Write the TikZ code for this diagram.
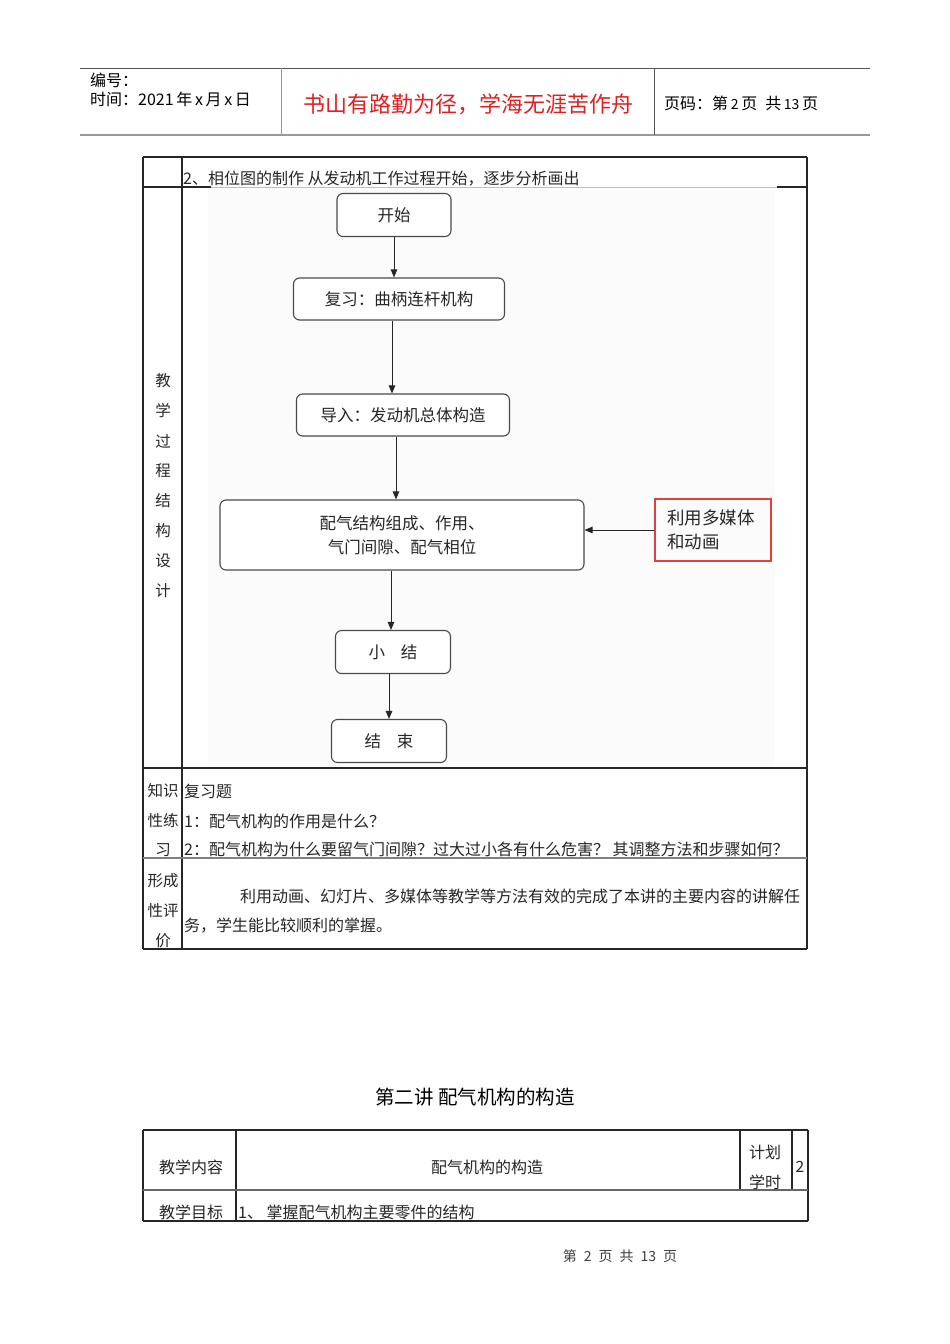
\documentclass[tikz,border=0pt]{standalone}
\usepackage{fontspec}
\setmainfont{Noto Sans CJK SC}
\newfontfamily\cjk{Noto Sans CJK SC}
\usetikzlibrary{arrows.meta}
\definecolor{hdrline}{HTML}{555555}
\definecolor{hdrgray}{HTML}{999999}
\definecolor{redtxt}{HTML}{E02020}
\definecolor{boxline}{HTML}{4A4A4A}
\definecolor{redbox}{HTML}{E04040}
\tikzset{
  x=1pt,y=-1pt,
  tline/.style={line width=1.2pt,draw=black!85},
  gline/.style={line width=1.6pt,draw=hdrgray},
  txt/.style={font=\fontsize{16}{18}\selectfont,inner sep=0pt,anchor=west,text=black!85},
  ctxt/.style={font=\fontsize{15.5}{17}\selectfont,inner sep=0pt,text=black!85},
  hdr/.style={font=\fontsize{16}{18}\selectfont,inner sep=0pt,anchor=west,text=black},
  flow/.style={draw=boxline,line width=1.1pt,rounded corners=6pt,fill=white,inner sep=0pt,font=\fontsize{16.5}{24}\selectfont,align=center,text=black!85},
  note/.style={draw=redbox,line width=1.2pt,inner sep=0pt,font=\fontsize{17.5}{24}\selectfont,align=left,text=black!85},
  arr/.style={-{Triangle[length=8pt,width=6.5pt]},line width=1pt,draw=black!85}
}
\begin{document}
\begin{tikzpicture}
\useasboundingbox[fill=white] (0,0) rectangle (950,1344);
% ---------------- header ----------------
\draw[line width=1pt,draw=hdrline] (80,68) -- (870,68);
\draw[gline] (80,135) -- (870,135);
\draw[line width=1pt,draw=hdrgray] (281,68) -- (281,135);
\draw[line width=1pt,draw=hdrline] (654,68) -- (654,135);
\node[hdr] (h1) at (90,80) {编号：};
\node[hdr] (h2) at (90,99) {时间：2021\,年\,x\,月\,x\,日};
\node[font=\fontsize{22}{24}\selectfont,text=redtxt,inner sep=0pt] (h3) at (468,104) {书山有路勤为径，学海无涯苦作舟};
\node[hdr] (h4) at (664,103) {页码：第\,{\fontsize{14}{16}\selectfont 2}\,页\enspace 共\,{\fontsize{14}{16}\selectfont 13}\,页};
% ---------------- table 1 ----------------
\fill[black!1.5] (208,190) rectangle (775,768);
\draw[tline] (143,157) -- (807,157);
\draw[tline] (143,157) -- (143,949);
\draw[tline] (807,157) -- (807,949);
\draw[tline] (182,157) -- (182,949);
\draw[tline] (143,187) -- (211,187);
\draw[line width=1pt,draw=black!25] (211,187) -- (777,187);
\draw[tline] (777,187) -- (807,187);
\draw[tline] (143,768) -- (807,768);
\draw[line width=1.4pt,draw=black!50] (143,858) -- (807,858);
\draw[tline] (143,949) -- (807,949);
\node[txt] (r1) at (183,179) {2、相位图的制作 从发动机工作过程开始，逐步分析画出};
% left vertical label
\node[ctxt] (v1) at (163,381) {教};
\node[ctxt] (v2) at (163,411) {学};
\node[ctxt] (v3) at (163,441) {过};
\node[ctxt] (v4) at (163,471) {程};
\node[ctxt] (v5) at (163,501) {结};
\node[ctxt] (v6) at (163,531) {构};
\node[ctxt] (v7) at (163,561) {设};
\node[ctxt] (v8) at (163,591) {计};
% flowchart
\node[flow,minimum width=114pt,minimum height=43pt] (f1) at (394,215) {开始};
\node[flow,minimum width=211pt,minimum height=42pt] (f2) at (399,299) {复习：曲柄连杆机构};
\node[flow,minimum width=213pt,minimum height=42pt] (f3) at (403,415) {导入：发动机总体构造};
\node[flow,minimum width=364pt,minimum height=70pt] (f4) at (402,535) {配气结构组成、作用、\\ 气门间隙、配气相位};
\node[flow,minimum width=115pt,minimum height=43pt] (f5) at (393,652) {小\hspace{16pt}结};
\node[flow,minimum width=115pt,minimum height=43pt] (f6) at (389,741) {结\hspace{16pt}束};
\node[note,minimum width=116pt,minimum height=62pt,text width=92pt] (f7) at (713,530) {利用多媒体\\和动画};
\draw[arr] (f1.south) -- (f1.south |- f2.north);
\draw[arr] (f2.south -| 392,0) -- (f3.north -| 392,0);
\draw[arr] (f3.south -| 396,0) -- (f4.north -| 396,0);
\draw[arr] (f4.south -| 391,0) -- (f5.north -| 391,0);
\draw[arr] (f5.south -| 389,0) -- (f6.north -| 389,0);
\draw[arr] (f7.west) -- (f7.west -| f4.east);
% row 2
\node[ctxt] (k1) at (163,791) {知识};
\node[ctxt] (k2) at (163,821) {性练};
\node[ctxt] (k3) at (163,850) {习};
\node[txt] (q0) at (184,791) {复习题};
\node[txt] (q1) at (184,821) {1：配气机构的作用是什么？};
\node[txt] (q2) at (184,849) {2：配气机构为什么要留气门间隙？过大过小各有什么危害？ 其调整方法和步骤如何？};
% row 3
\node[ctxt] (e1) at (163,881) {形成};
\node[ctxt] (e2) at (163,911) {性评};
\node[ctxt] (e3) at (163,941) {价};
\node[txt] (p1) at (240,896) {利用动画、幻灯片、多媒体等教学等方法有效的完成了本讲的主要内容的讲解任};
\node[txt] (p2) at (184,926) {务，学生能比较顺利的掌握。};
% ---------------- title ----------------
\node[font=\fontsize{19.5}{22}\selectfont,inner sep=0pt] (t) at (475,1097) {第二讲 配气机构的构造};
% ---------------- table 2 ----------------
\draw[tline] (143,1130) -- (808,1130);
\draw[tline] (143,1130) -- (143,1221);
\draw[tline] (808,1130) -- (808,1221);
\draw[tline] (236,1130) -- (236,1221);
\draw[tline] (740,1130) -- (740,1190);
\draw[tline] (792,1130) -- (792,1190);
\draw[line width=1.4pt,draw=black!60] (143,1190) -- (808,1190);
\draw[tline] (143,1221) -- (808,1221);
\node[txt] (c1) at (159,1167) {教学内容};
\node[ctxt,font=\fontsize{16}{18}\selectfont] (c2) at (487,1167) {配气机构的构造};
\node[txt] (c3) at (749,1152) {计划};
\node[txt] (c4) at (749,1182) {学时};
\node[ctxt] (c5) at (800,1167) {2};
\node[txt] (c6) at (159,1212) {教学目标};
\node[txt] (c7) at (238,1212) {1、 掌握配气机构主要零件的结构};
% ---------------- footer ----------------
\node[font=\fontsize{14}{16}\selectfont,inner sep=0pt,text=black!75] (ft) at (620,1256) {第\enspace 2\enspace 页\enspace 共\enspace 13\enspace 页};
\end{tikzpicture}
\end{document}
